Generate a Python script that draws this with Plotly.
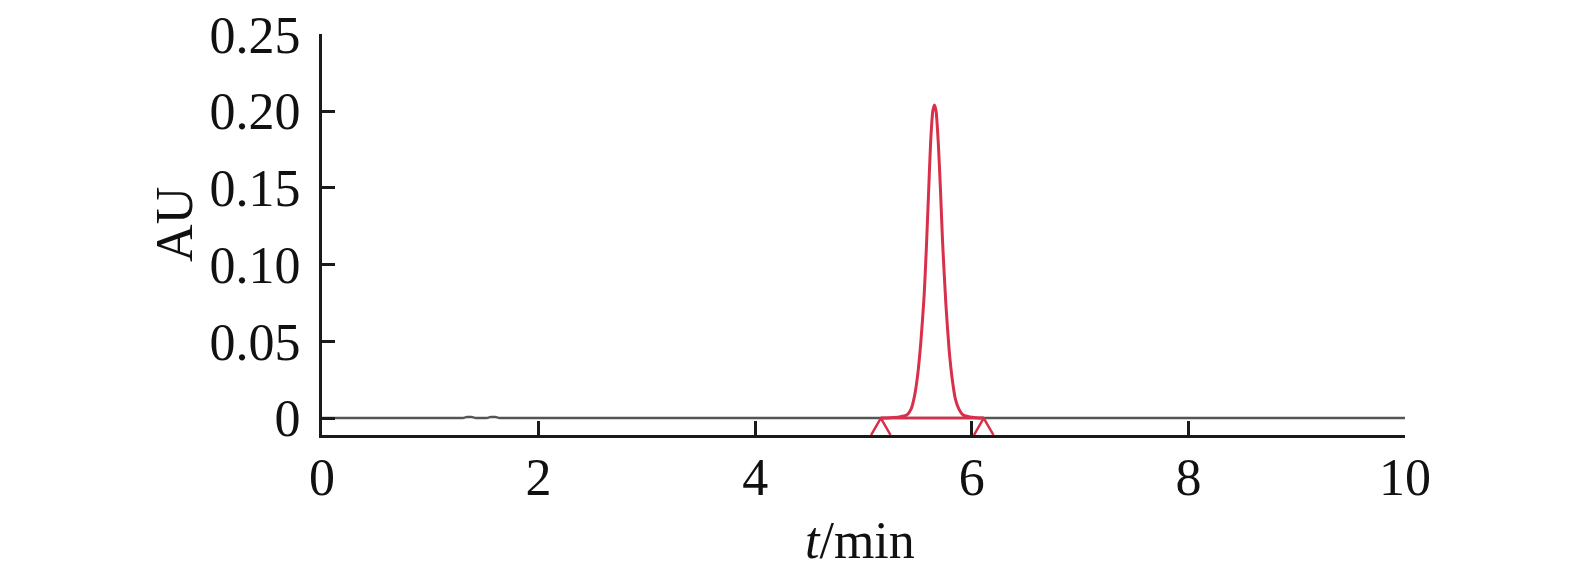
import plotly.graph_objects as go

# baseline trace (grey), t in min, AU
base_t = [0.0, 1.30, 1.34, 1.38, 1.42, 1.52, 1.56, 1.60, 1.64, 10.0]
base_au = [0.0, 0.0, 0.0008, 0.0008, 0.0, 0.0, 0.0008, 0.0008, 0.0, 0.0]

# main peak (red)
peak_t = [5.16, 5.25, 5.33, 5.40, 5.44, 5.47, 5.50, 5.53, 5.56, 5.58, 5.60,
          5.62, 5.64, 5.655, 5.67, 5.69, 5.71, 5.73, 5.76, 5.79, 5.82,
          5.85, 5.88, 5.92, 5.98, 6.04, 6.11]
peak_au = [0.0, 0.0003, 0.0008, 0.002, 0.006, 0.014, 0.028, 0.050, 0.080, 0.110, 0.145,
           0.180, 0.200, 0.204, 0.200, 0.180, 0.150, 0.115, 0.075, 0.045, 0.025,
           0.012, 0.006, 0.002, 0.0008, 0.0003, 0.0]

# integration start / end marks
mark_t = [5.16, 6.11]

x_ticks = [0, 2, 4, 6, 8, 10]
y_ticks = [0, 0.05, 0.10, 0.15, 0.20, 0.25]
y_tick_text = ['0', '0.05', '0.10', '0.15', '0.20', '0.25']

RED = '#d8304a'
Y_MIN = -0.011
Y_MAX = 0.2502
HALF = 0.09

fig = go.Figure()

fig.add_trace(go.Scatter(
    x=base_t, y=base_au, mode='lines',
    line=dict(color='#555555', width=2.5), showlegend=False
))

# drop baseline under the peak
fig.add_trace(go.Scatter(
    x=[mark_t[0], mark_t[-1]], y=[0, 0], mode='lines',
    line=dict(color=RED, width=2.5), showlegend=False
))

fig.add_trace(go.Scatter(
    x=peak_t, y=peak_au, mode='lines',
    line=dict(color=RED, width=3, shape='spline', smoothing=0.6), showlegend=False
))

# little "^" marks at peak start and end
for t in mark_t:
    fig.add_trace(go.Scatter(
        x=[t - HALF, t, t + HALF], y=[Y_MIN, 0, Y_MIN], mode='lines',
        line=dict(color=RED, width=2.5), showlegend=False, cliponaxis=False
    ))

font = dict(family='Liberation Serif, Times New Roman, serif', size=52, color='#111111')

fig.update_xaxes(
    range=[0, 10],
    tickvals=x_ticks,
    ticktext=[str(v) for v in x_ticks],
    ticks='inside', ticklen=14, tickwidth=2.5, tickcolor='#1a1a1a',
    showline=True, linecolor='#1a1a1a', linewidth=3,
    showgrid=False, zeroline=False, automargin=False,
    ticklabelstandoff=-5, ticklabeloverflow='allow',
    tickfont=font
)

fig.update_yaxes(
    range=[Y_MIN, Y_MAX],
    tickvals=y_ticks,
    ticktext=y_tick_text,
    ticks='inside', ticklen=13, tickwidth=2.5, tickcolor='#1a1a1a',
    showline=True, linecolor='#1a1a1a', linewidth=3,
    showgrid=False, zeroline=False, automargin=False,
    ticklabelstandoff=8, ticklabeloverflow='allow',
    tickfont=font
)

# axis titles as annotations so they sit where the original has them
fig.add_annotation(text='AU', xref='paper', yref='paper', x=-0.1357, y=0.524,
                   textangle=-90, showarrow=False, font=font,
                   xanchor='center', yanchor='middle')
fig.add_annotation(text='<i>t</i>/min', xref='paper', yref='paper', x=0.497, y=-0.262,
                   showarrow=False, font=font, xanchor='center', yanchor='middle')

# the page body adds 8px, so margins are trimmed by that much
fig.update_layout(
    width=1575,
    height=581,
    margin=dict(l=314, r=178, t=26, b=154),
    paper_bgcolor='white',
    plot_bgcolor='white',
    font=font,
    showlegend=False
)

fig.write_html("out.html")
